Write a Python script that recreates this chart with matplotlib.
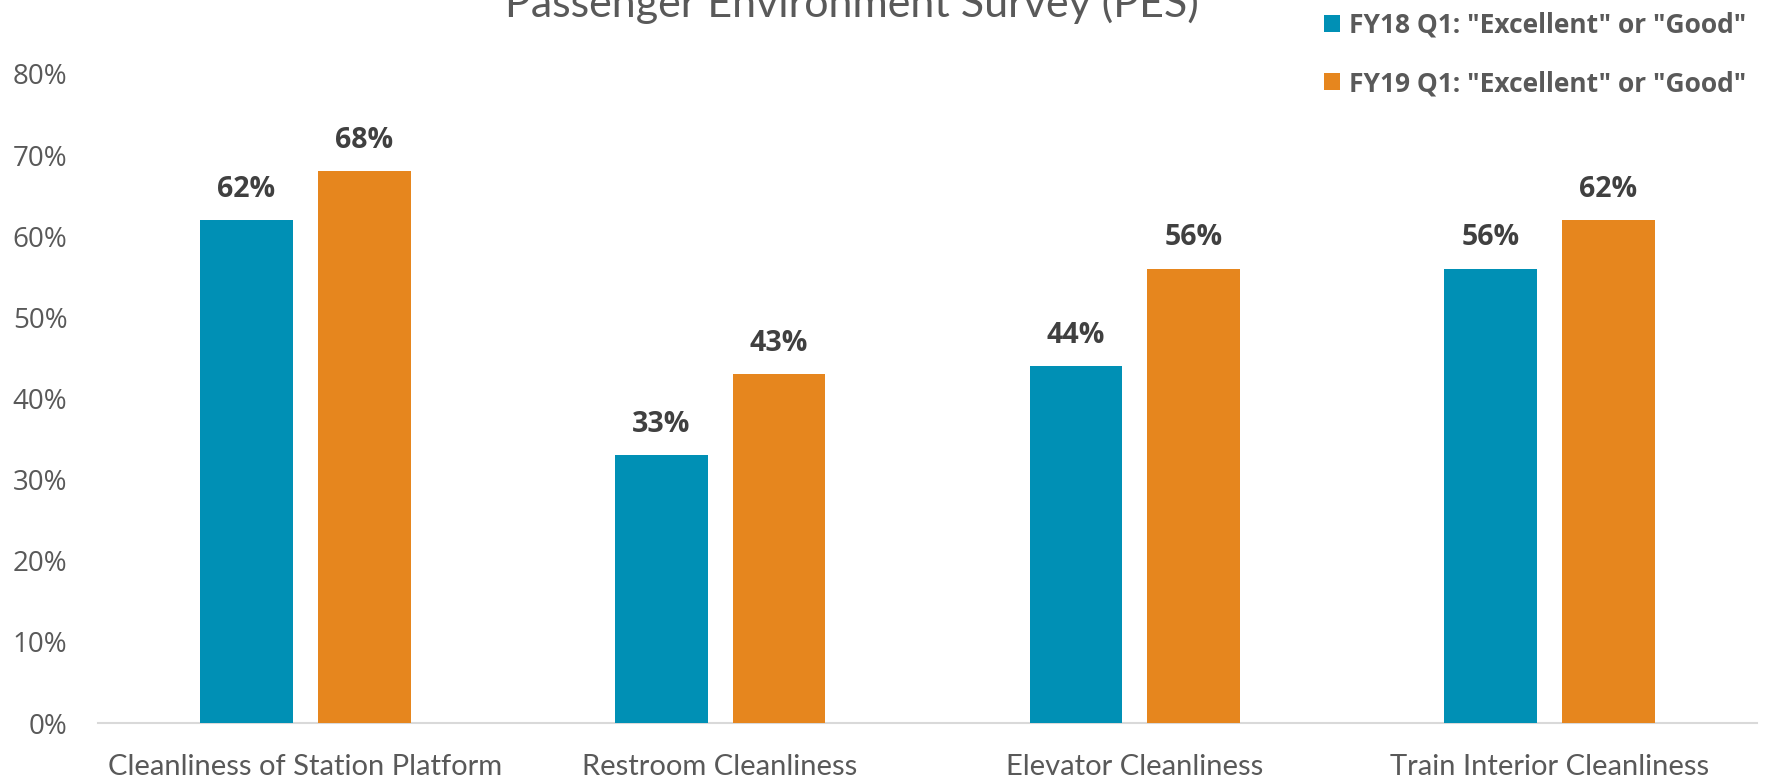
import matplotlib
matplotlib.use("Agg")
import matplotlib.pyplot as plt
import numpy as np
from matplotlib.ticker import FuncFormatter

categories = ["Cleanliness of Station Platform", "Restroom Cleanliness",
              "Elevator Cleanliness", "Train Interior Cleanliness"]
fy18 = [62, 33, 44, 56]
fy19 = [68, 43, 56, 62]
series_names = ['FY18 Q1: "Excellent" or "Good"', 'FY19 Q1: "Excellent" or "Good"']
yticks = [0, 10, 20, 30, 40, 50, 60, 70, 80]

blue = "#0090B5"
orange = "#E6861E"
gray = "#595959"

fig = plt.figure(figsize=(17.79, 7.80), dpi=100)
W, H = 1779, 780
ax = fig.add_axes([98 / W, 1 - 723 / H, (1757 - 98) / W, (723 - 74) / H])

x = np.arange(len(categories))
bw = 0.224
off = 0.142
ax.bar(x - off, fy18, bw, color=blue, label=series_names[0], zorder=3)
ax.bar(x + off, fy19, bw, color=orange, label=series_names[1], zorder=3)

for xi, v in zip(x - off, fy18):
    ax.text(xi, v + 2.0, f"{v}%", ha="center", va="bottom", fontsize=20.5,
            fontweight="bold", color="#404040", family="Open Sans")
for xi, v in zip(x + off, fy19):
    ax.text(xi, v + 2.0, f"{v}%", ha="center", va="bottom", fontsize=20.5,
            fontweight="bold", color="#404040", family="Open Sans")

ax.set_xlim(-0.5, len(categories) - 0.5)
ax.set_ylim(0, 80)
ax.set_yticks(yticks)
ax.yaxis.set_major_formatter(FuncFormatter(lambda v, p: f"{int(v)}%"))
ax.set_xticks(x)
ax.set_xticklabels(categories, fontsize=21, color=gray, family="Lato")
for lab in ax.get_yticklabels():
    lab.set_fontsize(20)
    lab.set_color(gray)
    lab.set_family("Open Sans")
ax.tick_params(axis="both", length=0)
ax.tick_params(axis="x", pad=22)
ax.tick_params(axis="y", pad=22)
for s in ["top", "right", "left"]:
    ax.spines[s].set_visible(False)
ax.spines["bottom"].set_color("#D9D9D9")
ax.spines["bottom"].set_linewidth(1.5)

fig.text(852 / W, 1 - 17 / H, "Passenger Environment Survey (PES)", ha="center",
         va="baseline", fontsize=31, color=gray, family="Lato")

leg = fig.legend(loc="upper right", bbox_to_anchor=(1765 / W, 1 + 7 / H),
                 frameon=False, prop={"family": "Open Sans", "weight": "bold", "size": 19},
                 handlelength=0.6, handleheight=0.6, handletextpad=0.35,
                 labelspacing=1.2, borderaxespad=0.3)
for t in leg.get_texts():
    t.set_color(gray)

fig.savefig("out.png", dpi=100)
